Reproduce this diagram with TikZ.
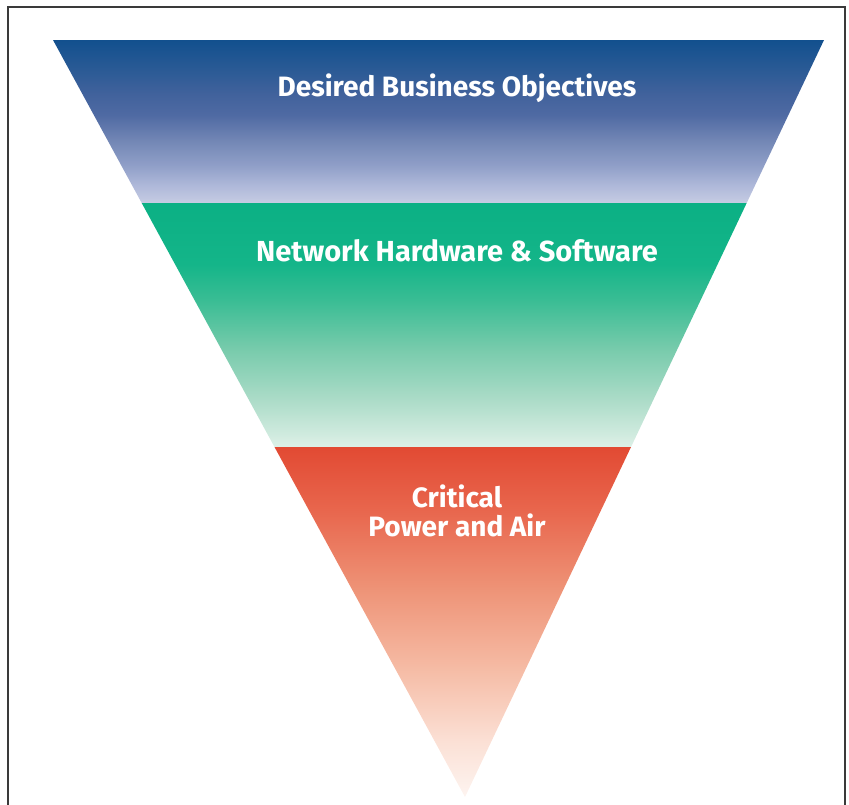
\documentclass[tikz,border=0pt]{standalone}
\usepackage{fontspec}
\setmainfont{Fira Sans}
\definecolor{frame}{HTML}{3A3A3A}
\definecolor{b0}{HTML}{12508E}
\definecolor{b1}{HTML}{2A5A95}
\definecolor{b2}{HTML}{41629C}
\definecolor{b3}{HTML}{4F6AA3}
\definecolor{b4}{HTML}{7185B4}
\definecolor{b5}{HTML}{909FC8}
\definecolor{b6}{HTML}{AEB8D9}
\definecolor{b7}{HTML}{C6CCE3}
\definecolor{g0}{HTML}{0BB084}
\definecolor{g1}{HTML}{14B589}
\definecolor{g2}{HTML}{3ABD94}
\definecolor{g3}{HTML}{78CBAC}
\definecolor{g4}{HTML}{AADBC7}
\definecolor{g5}{HTML}{DDF0E7}
\definecolor{r0}{HTML}{E24A33}
\definecolor{r1}{HTML}{E8664D}
\definecolor{r2}{HTML}{EE9276}
\definecolor{r3}{HTML}{F5B9A2}
\definecolor{r4}{HTML}{FBE0D5}
\definecolor{r5}{HTML}{FDF4F0}
% vertical shadings: first stop is the bottom; 25bp..75bp spans the path
\pgfdeclareverticalshading{blueband}{100bp}{color(0bp)=(b7); color(25bp)=(b7); color(30.5bp)=(b6); color(36.5bp)=(b5); color(44.5bp)=(b4); color(52bp)=(b3); color(58.5bp)=(b2); color(66bp)=(b1); color(75bp)=(b0); color(100bp)=(b0)}
\pgfdeclareverticalshading{greenband}{100bp}{color(0bp)=(g5); color(25bp)=(g5); color(35bp)=(g4); color(45bp)=(g3); color(55bp)=(g2); color(62.5bp)=(g1); color(75bp)=(g0); color(100bp)=(g0)}
\pgfdeclareverticalshading{redband}{100bp}{color(0bp)=(r5); color(25bp)=(r5); color(33bp)=(r4); color(44bp)=(r3); color(55bp)=(r2); color(66bp)=(r1); color(75bp)=(r0); color(100bp)=(r0)}
\tikzset{
  label/.style={text=white, font=\bfseries\fontsize{28}{29}\selectfont, align=center, inner sep=0pt},
}
\begin{document}
\begin{tikzpicture}[x=1pt,y=-1pt]
\useasboundingbox (0,0) rectangle (849,804);
% frame
\draw[frame, line width=1.6pt] (8,830) -- (8,7) -- (845,7) -- (845,830);
% triangle corners and band boundaries
\coordinate (TL) at (53,40);
\coordinate (TR) at (824,40);
\coordinate (A) at (465,797);
\coordinate (L1) at (141.7,203);
\coordinate (R1) at (746.7,203);
\coordinate (L2) at (274.5,447);
\coordinate (R2) at (631,447);
% bands
\shade[shading=blueband] (TL) -- (TR) -- (R1) -- (L1) -- cycle;
\shade[shading=greenband] (L1) -- (R1) -- (R2) -- (L2) -- cycle;
\shade[shading=redband] (L2) -- (R2) -- (A) -- cycle;
% labels
\node[label] (t1) at (457,88) {Desired Business Objectives};
\node[label, font=\bfseries\fontsize{29}{29}\selectfont] (t2) at (457,251) {Network Hardware \& Software};
\node[label] (t3) at (457,511) {Critical\\Power and Air};
\end{tikzpicture}
\end{document}
